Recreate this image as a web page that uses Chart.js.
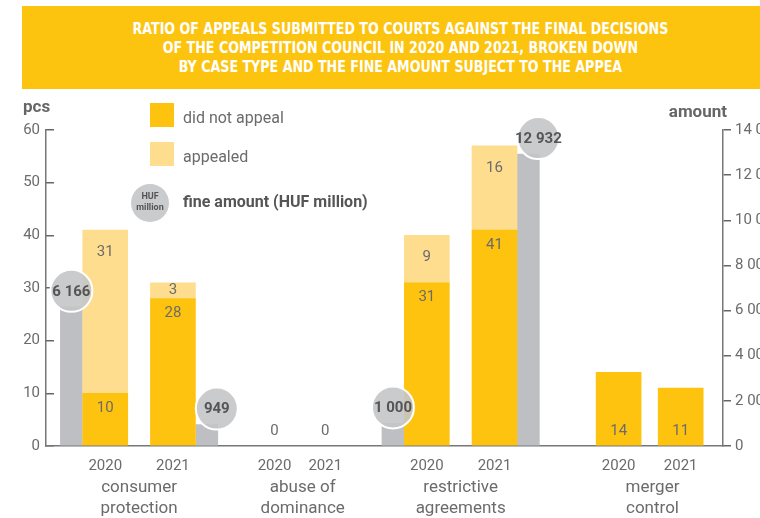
<!DOCTYPE html>
<html>
<head>
<meta charset="utf-8">
<script src="https://cdn.jsdelivr.net/npm/chart.js@4.4.1/dist/chart.umd.min.js"></script>
<style>
  html, body { margin: 0; padding: 0; background: #fff; overflow: hidden; width: 760px; height: 518px; }
  #wrap { position: relative; width: 800px; height: 540px; }
  canvas { position: absolute; left: 0; top: 0; }
  #banner {
    position: absolute; left: 22px; top: 6px; width: 756px; height: 83px;
    box-sizing: border-box; padding-top: 13px;
    background: #fdc40f; color: #fff; text-align: center;
    font: bold 16px "Liberation Sans Narrow", "DejaVu Sans Condensed", sans-serif; line-height: 19px;
  }
  #banner span { display: inline-block; transform: scaleX(0.88); transform-origin: center; white-space: nowrap; }
</style>
</head>
<body>
<div id="wrap">
  <canvas id="appealChart" width="800" height="540"></canvas>
  <div id="banner"><span>RATIO OF APPEALS SUBMITTED TO COURTS AGAINST THE FINAL DECISIONS<br>OF THE COMPETITION COUNCIL IN 2020 AND 2021, BROKEN DOWN<br>BY CASE TYPE AND THE FINE AMOUNT SUBJECT TO THE APPEA</span></div>
</div>
<script>
// chart data
const years = ['2020', '2021'];
const caseTypes = [['consumer', 'protection'], ['abuse of', 'dominance'], ['restrictive', 'agreements'], ['merger', 'control']];
const notAppealed = [10, 28, 0, 0, 31, 41, 14, 11];
const appealed = [31, 3, 0, 0, 9, 16, 0, 0];
const fineAmount = [6166, 949, null, null, 1000, 12932, null, null];
const pcsTicks = [0, 10, 20, 30, 40, 50, 60];
const amountTicks = [0, 2000, 4000, 6000, 8000, 10000, 12000, 14000];

// layout: the x axis is a fine category axis, each year bar sits on one slot
const SLOTS = 120;
const barSlot = [10, 22, 40, 49, 67, 79, 101, 112];
const FINE_SHIFT = 6; // grey bar sits next to the yellow one (left for 2020, right for 2021)

const DARK = '#fdc30f', LIGHT = '#fedd8f', GREY = '#bebfc2';
const TXT = '#6b6b6b';

const fmt = v => String(v).replace(/\B(?=(\d{3})+(?!\d))/g, ' ');

const yearLabels = new Array(SLOTS).fill('');
const groupLabels = new Array(SLOTS).fill('');
const notAppealedData = new Array(SLOTS).fill(null);
const appealedData = new Array(SLOTS).fill(null);
const fineData = new Array(SLOTS).fill(null);

barSlot.forEach((s, i) => {
    yearLabels[s] = years[i % 2];
    notAppealedData[s] = notAppealed[i] || null; // no empty 0-height bars
    appealedData[s] = appealed[i] || null;
    if (fineAmount[i] !== null) {
        fineData[s + (i % 2 ? FINE_SHIFT : -FINE_SHIFT)] = fineAmount[i];
    }
});
caseTypes.forEach((c, g) => {
    groupLabels[Math.round((barSlot[2 * g] + barSlot[2 * g + 1]) / 2)] = c;
});

// value labels, bubbles, legend and axis titles
const annotate = {
    id: 'annotate',
    afterDatasetsDraw(chart) {
        const ctx = chart.ctx;
        const xs = chart.scales.x, ys = chart.scales.y, y2s = chart.scales.y2;
        const base = ys.getPixelForValue(0);
        ctx.save();
        ctx.textAlign = 'center';
        ctx.textBaseline = 'middle';
        ctx.font = '15px Roboto';
        ctx.fillStyle = TXT;
        barSlot.forEach((s, i) => {
            const x = xs.getPixelForValue(s);
            const lowTop = ys.getPixelForValue(notAppealed[i]);
            ctx.fillText(notAppealed[i], x, appealed[i] ? lowTop + 15 : base - 15);
            if (appealed[i]) {
                const top = ys.getPixelForValue(notAppealed[i] + appealed[i]);
                const h = lowTop - top;
                ctx.fillText(appealed[i], x, h < 40 ? top + h / 2 : top + 22);
            }
        });
        ctx.font = 'bold 15px Roboto';
        barSlot.forEach((s, i) => {
            if (fineAmount[i] === null) return;
            const side = i % 2 ? 1 : -1;
            const cx = xs.getPixelForValue(s + side * FINE_SHIFT) + (side > 0 ? 10 : 0);
            const cy = y2s.getPixelForValue(fineAmount[i]) - 16;
            ctx.beginPath();
            ctx.arc(cx, cy, 21, 0, Math.PI * 2);
            ctx.fillStyle = 'rgba(196,197,200,0.9)';
            ctx.fill();
            ctx.lineWidth = 2;
            ctx.strokeStyle = '#fff';
            ctx.stroke();
            ctx.fillStyle = '#555';
            ctx.fillText(fmt(fineAmount[i]), cx, cy + 1);
        });
        ctx.restore();
    },
    afterDraw(chart) {
        const ctx = chart.ctx;
        const ds = chart.data.datasets;
        const area = chart.chartArea;
        ctx.save();
        ctx.textBaseline = 'middle';
        // axis titles
        ctx.font = 'bold 17px Roboto';
        ctx.fillStyle = '#666';
        ctx.textAlign = 'left';
        ctx.fillText('pcs', area.left - 23, 108);
        ctx.textAlign = 'right';
        ctx.fillText('amount', area.right + 4, 113);
        // legend
        ctx.textAlign = 'left';
        ctx.fillStyle = ds[0].backgroundColor;
        ctx.fillRect(150, 103, 24, 24);
        ctx.fillStyle = ds[1].backgroundColor;
        ctx.fillRect(150, 142, 24, 24);
        ctx.font = '16px Roboto';
        ctx.fillStyle = TXT;
        ctx.fillText(ds[0].label, 183, 119);
        ctx.fillText(ds[1].label, 183, 158);
        ctx.beginPath();
        ctx.arc(150, 203, 19, 0, Math.PI * 2);
        ctx.fillStyle = 'rgba(196,197,200,0.9)';
        ctx.fill();
        ctx.fillStyle = '#555';
        ctx.textAlign = 'center';
        ctx.font = 'bold 9px Roboto';
        ctx.fillText('HUF', 150, 197);
        ctx.fillText('million', 150, 208);
        ctx.textAlign = 'left';
        ctx.font = 'bold 16px Roboto';
        ctx.fillText(ds[2].label, 183, 203);
        ctx.restore();
    }
};

const ctx = document.getElementById('appealChart').getContext('2d');
new Chart(ctx, {
    type: 'bar',
    data: {
        labels: yearLabels,
        datasets: [{
            label: 'did not appeal',
            data: notAppealedData,
            backgroundColor: DARK,
            stack: 'pcs',
            xAxisID: 'x',
            yAxisID: 'y',
            barThickness: 45,
            grouped: false,
        }, {
            label: 'appealed',
            data: appealedData,
            backgroundColor: LIGHT,
            stack: 'pcs',
            xAxisID: 'x',
            yAxisID: 'y',
            barThickness: 45,
            grouped: false,
        }, {
            label: 'fine amount (HUF million)',
            data: fineData,
            backgroundColor: GREY,
            stack: 'fine',
            xAxisID: 'x',
            yAxisID: 'y2',
            barThickness: 22,
            grouped: false,
        }],
    },
    options: {
        responsive: false,
        animation: false,
        devicePixelRatio: 1,
        layout: { padding: { top: 130, left: 0, right: 0, bottom: 0 } },
        plugins: { legend: { display: false }, tooltip: { enabled: false } },
        scales: {
            x: {
                position: 'bottom',
                weight: 1,
                grid: { display: false, drawTicks: false },
                border: { display: true, color: '#777', width: 1.5 },
                ticks: { autoSkip: false, maxRotation: 0, minRotation: 0, padding: 11, color: TXT, font: { family: 'Roboto', size: 15 } },
                afterFit: s => { s.height = 24; },
            },
            xg: {
                type: 'category',
                position: 'bottom',
                weight: 2,
                offset: true,
                labels: groupLabels,
                grid: { display: false, drawTicks: false },
                border: { display: false },
                ticks: { autoSkip: false, maxRotation: 0, minRotation: 0, padding: 7, color: TXT, font: { family: 'Roboto', size: 17, lineHeight: 1.25 } },
                afterFit: s => { s.height = 70; },
            },
            y: {
                position: 'left',
                stacked: true,
                min: pcsTicks[0],
                max: pcsTicks[pcsTicks.length - 1],
                afterBuildTicks: s => { s.ticks = pcsTicks.map(v => ({ value: v })); },
                grid: { drawOnChartArea: false, tickLength: -8, color: '#666', lineWidth: 1.5 },
                border: { color: '#777', width: 1.5 },
                ticks: { padding: 14, color: TXT, font: { family: 'Roboto', size: 15 } },
                afterFit: s => { s.width = 46; },
            },
            y2: {
                position: 'right',
                stacked: true,
                min: amountTicks[0],
                max: amountTicks[amountTicks.length - 1],
                afterBuildTicks: s => { s.ticks = amountTicks.map(v => ({ value: v })); },
                grid: { drawOnChartArea: false, tickLength: 8, color: '#666', lineWidth: 1.5 },
                border: { color: '#777', width: 1.5 },
                ticks: { padding: 4, color: TXT, font: { family: 'Roboto', size: 15 }, callback: v => fmt(v) },
                afterFit: s => { s.width = 77; },
            },
        },
    },
    plugins: [annotate],
});
</script>
</body>
</html>
